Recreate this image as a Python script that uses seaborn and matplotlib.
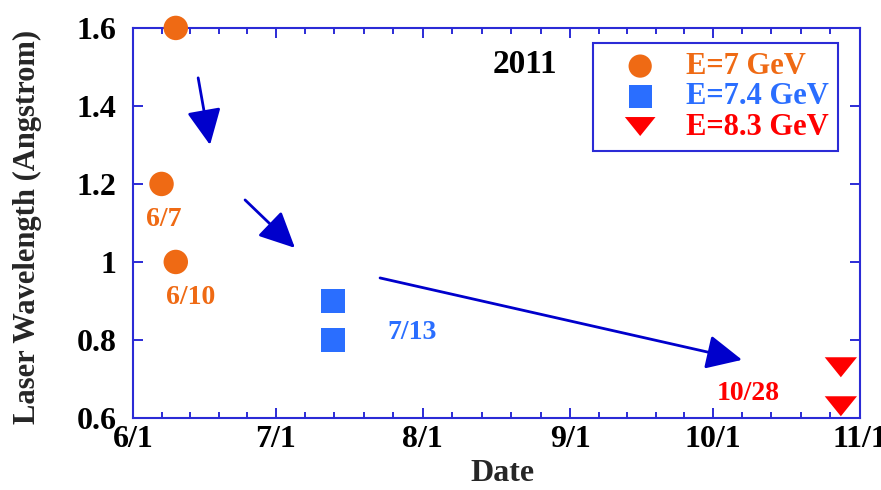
import numpy as np
import pandas as pd
import matplotlib
matplotlib.use("Agg")
import matplotlib.pyplot as plt
import seaborn as sns

# ---- data ----
e7_dates = ["2011-06-10", "2011-06-07", "2011-06-10"]
e7_vals = [1.6, 1.2, 1.0]
e74_dates = ["2011-07-13", "2011-07-13"]
e74_vals = [0.9, 0.8]
e83_dates = ["2011-10-28", "2011-10-28"]
e83_vals = [0.73, 0.63]
series_labels = ["E=7 GeV", "E=7.4 GeV", "E=8.3 GeV"]
month_ticks = ["2011-06-01", "2011-07-01", "2011-08-01", "2011-09-01", "2011-10-01", "2011-11-01"]
month_labels = ["6/1", "7/1", "8/1", "9/1", "10/1", "11/1"]
y_ticks = [0.6, 0.8, 1.0, 1.2, 1.4, 1.6]
y_labels = ["0.6", "0.8", "1", "1.2", "1.4", "1.6"]
point_notes = ["6/7", "6/10", "7/13", "10/28"]
note_dates = ["2011-06-07 12:00", "2011-06-13 05:00", "2011-07-29 17:00", "2011-10-08 12:00"]
note_vals = [1.108, 0.910, 0.818, 0.664]
year_note = "2011"
arrow_start = [("2011-06-14 17:00", 1.472), ("2011-06-24 14:00", 1.159), ("2011-07-23", 0.959)]
arrow_end = [("2011-06-17 05:00", 1.300), ("2011-07-05 02:00", 1.036), ("2011-10-07 05:00", 0.749)]

ORANGE = "#EF6A14"
BLUE = "#2A6EFF"
RED = "#FF0000"
AXBLUE = "#2B2BD6"
ARROW = "#0000CC"
SERIF = ["Liberation Serif", "DejaVu Serif"]

sns.set_theme(style="white")
plt.rcParams["font.family"] = SERIF
plt.rcParams["font.weight"] = "bold"

# flattened downward triangle
tri = [(-1.0, 0.62), (1.0, 0.62), (0.0, -0.62), (-1.0, 0.62)]

fig = plt.figure(figsize=(8.81, 4.90), dpi=100)
ax = fig.add_axes([0.151, 0.147, 0.825, 0.796])

df7 = pd.DataFrame({"date": pd.to_datetime(e7_dates), "val": e7_vals})
df74 = pd.DataFrame({"date": pd.to_datetime(e74_dates), "val": e74_vals})
df83 = pd.DataFrame({"date": pd.to_datetime(e83_dates), "val": e83_vals})

sns.scatterplot(data=df7, x="date", y="val", ax=ax, marker="o", s=310, color=ORANGE,
                edgecolor="none", label=series_labels[0], clip_on=False, zorder=5)
sns.scatterplot(data=df74, x="date", y="val", ax=ax, marker="s", s=300, color=BLUE,
                edgecolor="none", label=series_labels[1], clip_on=False, zorder=5)
sns.scatterplot(data=df83, x="date", y="val", ax=ax, marker=tri, s=540, color=RED,
                edgecolor="none", label=series_labels[2], clip_on=False, zorder=5)

ax.set_xlim(pd.Timestamp(month_ticks[0]), pd.Timestamp(month_ticks[-1]))
ax.set_ylim(0.6, 1.6)

mt = pd.to_datetime(month_ticks)
ax.set_xticks(mt)
ax.set_xticklabels(month_labels)
minors = []
for a, b in zip(mt[:-1], mt[1:]):
    for k in range(1, 5):
        minors.append(a + (b - a) * k / 5)
ax.set_xticks(minors, minor=True)
ax.set_yticks(y_ticks)
ax.set_yticklabels(y_labels)

for sp in ax.spines.values():
    sp.set_color(AXBLUE)
    sp.set_linewidth(1.5)
    sp.set_visible(True)

ax.tick_params(axis="both", which="both", direction="in", top=True, right=True,
               bottom=True, left=True, color=AXBLUE, labelcolor="black")
ax.tick_params(axis="both", which="major", length=7.5, width=1.4, labelsize=23)
ax.tick_params(axis="y", which="major", pad=12)
ax.tick_params(axis="x", which="major", pad=5)
ax.tick_params(axis="x", which="minor", length=4.5, width=1.4)
for lab in ax.get_xticklabels() + ax.get_yticklabels():
    lab.set_fontweight("bold")

ax.set_xlabel("Date", fontsize=23, fontweight="bold")
ax.xaxis.set_label_coords(0.509, -0.105)
ax.set_ylabel("Laser Wavelength (Angstrom)", fontsize=22, fontweight="bold")
ax.yaxis.set_label_coords(-0.125, 0.49)

note_colors = [ORANGE, ORANGE, BLUE, RED]
for t, d, v, c in zip(point_notes, note_dates, note_vals, note_colors):
    ax.text(pd.Timestamp(d), v, t, color=c, fontsize=20, fontweight="bold",
            ha="center", va="center")
ax.text(pd.Timestamp("2011-08-22 12:00"), 1.505, year_note, color="black", fontsize=24,
        fontweight="bold", ha="center", va="center")

for (sd, sv), (ed, ev) in zip(arrow_start, arrow_end):
    ax.annotate("", xy=(pd.Timestamp(ed), ev), xytext=(pd.Timestamp(sd), sv),
                arrowprops=dict(arrowstyle="-|>,head_length=1.0,head_width=0.48",
                                color=ARROW, lw=2, mutation_scale=22, shrinkA=0, shrinkB=0))

leg = ax.legend(loc="upper right", bbox_to_anchor=(0.970, 0.9615),
                frameon=True, fancybox=False, framealpha=1, borderpad=0.3,
                labelspacing=0.04, handletextpad=0.25, handlelength=2.5, markerscale=0.95,
                borderaxespad=0,
                prop={"family": SERIF, "weight": "bold", "size": 22})
leg.get_frame().set_edgecolor(AXBLUE)
leg.get_frame().set_linewidth(1.5)
for txt, c in zip(leg.get_texts(), [ORANGE, BLUE, RED]):
    txt.set_color(c)

fig.savefig("out.png", dpi=100, facecolor="white")
